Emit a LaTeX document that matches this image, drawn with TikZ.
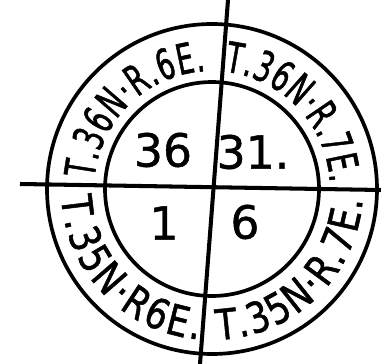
\documentclass[tikz,border=0pt]{standalone}
\usepackage{fontspec}
\setmainfont{DejaVu Sans}
\newfontfamily\ringfont[FakeStretch=0.64, FakeBold=1.2]{DejaVu Sans}
\newfontfamily\ringwidefont[FakeStretch=0.82, FakeBold=1.2]{DejaVu Sans}
\newfontfamily\numfont[FakeBold=1]{DejaVu Sans}
\usetikzlibrary{decorations.text}

\begin{document}
\begin{tikzpicture}[
    ringline/.style={line width=2.1pt},
    crossline/.style={line width=2.3pt},
    numlabel/.style={font=\numfont\fontsize{26}{26}\selectfont, inner sep=0pt},
    uppertext/.style={decorate, decoration={text along path, text align={fit to path},
        text={|\ringfont\fontsize{24}{24}\selectfont|#1}}},
    lowertext/.style={decorate, decoration={text along path, text align={fit to path},
        text={|\ringwidefont\fontsize{24}{24}\selectfont|#1}}}
]
    \useasboundingbox (-4.24,-3.50) rectangle (3.38,3.78);

    % Ring
    \coordinate (c) at (0,0);
    \draw[ringline] (c) circle[radius=3.3];
    \draw[ringline] (c) circle[radius=2.14];

    % Section lines
    \coordinate (west) at (-3.84,0.10);
    \coordinate (east) at (3.38,-0.02);
    \coordinate (north) at (0.32,3.78);
    \coordinate (south) at (-0.24,-3.50);
    \draw[crossline] (west) -- (east);
    \draw[crossline] (north) -- (south);

    % Township names round the ring
    \path[uppertext={T.36N·R.6E.}] (175:2.36) arc[start angle=175, end angle=93, radius=2.36];
    \path[uppertext={T.36N·R.7E.}] (84:2.36) arc[start angle=84, end angle=3, radius=2.36];
    \path[lowertext={T.35N·R6E.}] (183:3.02) arc[start angle=183, end angle=265, radius=3.02];
    \path[lowertext={T.35N·R.7E.}] (272:3.02) arc[start angle=272, end angle=356, radius=3.02];

    % Section numbers
    \node[numlabel] (s36) at (-0.98,0.78) {36};
    \node[numlabel] (s31) at (0.82,0.74) {31.};
    \node[numlabel] (s1) at (-0.96,-0.68) {1};
    \node[numlabel] (s6) at (0.66,-0.66) {6};
\end{tikzpicture}
\end{document}
